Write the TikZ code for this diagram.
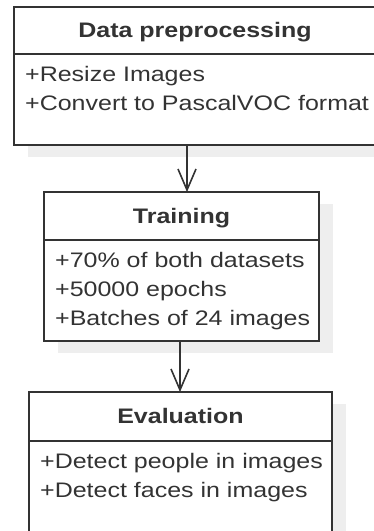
\documentclass[tikz,border=0pt]{standalone}
\usepackage{fontspec}
\setmainfont{Liberation Sans}[FakeStretch=1.19]
\usetikzlibrary{positioning,arrows.meta,shadows}
\definecolor{inkgray}{RGB}{51,51,51}
\definecolor{shadegray}{RGB}{238,238,238}
\newcommand{\umlfont}{\fontsize{21}{29}\selectfont}

\begin{document}
\begin{tikzpicture}[x=1pt, y=1pt, >={Straight Barb[length=21pt,width=18pt]},
    classhead/.style={draw=inkgray, line width=1.6pt, fill=white, rectangle, outer sep=0pt, inner sep=0pt, anchor=north west, text=inkgray, font=\umlfont\bfseries, text height=16pt, text depth=2pt},
    classbody/.style={draw=inkgray, line width=1.6pt, fill=white, rectangle, outer sep=0pt, inner sep=0pt, anchor=north},
    boxshadow/.style={drop shadow={shadow xshift=14pt, shadow yshift=-12pt, fill=shadegray, opacity=1}},
    members/.style={anchor=north west, inner sep=0pt, align=left, text=inkgray, font=\umlfont},
    flow/.style={->, draw=inkgray, line width=1.6pt}
    ]
    \clip (0,0) rectangle (374,-531);

    % data preprocessing
    \node[classhead, boxshadow, minimum width=362pt, minimum height=47pt] (prephead) at (14,-7) {Data preprocessing};
    \node[classbody, boxshadow, minimum width=362pt, minimum height=91pt, below=0pt of prephead] (prepbody) {};
    \node[members] (preplist) at ([xshift=11pt,yshift=-12pt]prepbody.north west) {+Resize Images\\+Convert to PascalVOC format};

    % training
    \node[classhead, boxshadow, minimum width=275pt, minimum height=48pt] (trainhead) at (44,-192) {Training};
    \node[classbody, boxshadow, minimum width=275pt, minimum height=101pt, below=0pt of trainhead] (trainbody) {};
    \node[members] (trainlist) at ([xshift=11pt,yshift=-12pt]trainbody.north west) {+70\% of both datasets\\+50000 epochs\\+Batches of 24 images};

    % evaluation
    \node[classhead, boxshadow, minimum width=303pt, minimum height=49pt] (evalhead) at (29,-392) {Evaluation};
    \node[classbody, boxshadow, minimum width=303pt, minimum height=110pt, below=0pt of evalhead] (evalbody) {};
    \node[members] (evallist) at ([xshift=11pt,yshift=-12pt]evalbody.north west) {+Detect people in images\\+Detect faces in images};

    \draw[flow] ([xshift=5.5pt]trainhead.north |- prepbody.south) -- ([xshift=5.5pt]trainhead.north);
    \draw[flow] ([xshift=-1.5pt]trainbody.south) -- ([xshift=-1.5pt]trainbody.south |- evalhead.north);
\end{tikzpicture}
\end{document}
